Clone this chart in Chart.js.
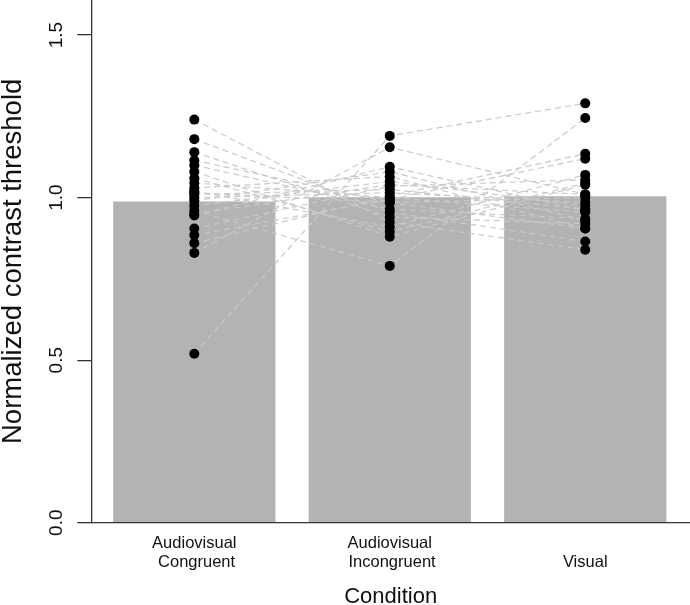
<!DOCTYPE html>
<html>
<head>
<meta charset="utf-8">
<script src="https://cdn.jsdelivr.net/npm/chart.js@4.4.1/dist/chart.umd.min.js"></script>
<style>
body { margin: 0; background: #fff; }
</style>
</head>
<body>
<canvas id="myChart" width="690" height="605"></canvas>
<script>
// condition labels (Visual sits on the second line like the original)
var conditions = [['Audiovisual', ' Congruent'], ['Audiovisual', ' Incongruent'], ['', 'Visual']]
var barMeans = [0.988, 1.001, 1.004]
var yTicks = [0, 0.5, 1.0, 1.5]

// one value per subject, same order in each array
var avCongruent   = [0.52, 1.24, 1.18, 1.14, 1.115, 1.10, 0.96, 0.83, 0.885, 0.86, 0.905, 1.08, 1.06, 1.02, 0.945, 0.99, 1.03, 0.975, 1.01, 1.00, 1.045, 0.95, 1.015]
var avIncongruent = [1.19, 0.925, 0.955, 0.94, 0.985, 0.965, 0.79, 1.155, 0.995, 1.005, 1.035, 0.88, 0.895, 0.91, 1.095, 1.08, 1.065, 1.05, 1.025, 1.015, 1.00, 1.04, 0.985]
var visualOnly    = [1.29, 0.84, 0.865, 0.92, 0.905, 0.935, 1.245, 1.01, 1.12, 1.135, 1.055, 1.04, 1.045, 1.07, 0.96, 0.93, 0.905, 0.975, 0.965, 0.985, 0.955, 1.01, 1.00]

Chart.defaults.font.family = "'Liberation Sans', Arial, sans-serif"
Chart.defaults.color = '#111'

var subjects = avCongruent.map(function(v, i){
    return [v, avIncongruent[i], visualOnly[i]]
})

var datasets = [{
    type: 'bar',
    data: barMeans.map(function(v, i){ return {x: i, y: v} }),
    backgroundColor: '#b3b3b3',
    borderWidth: 0,
    barPercentage: 0.83,
    categoryPercentage: 1,
    order: 3
}]

subjects.forEach(function(s){
    datasets.push({
        type: 'line',
        data: s.map(function(v, i){ return {x: i, y: v} }),
        borderColor: '#c9c9c9',
        borderWidth: 1.2,
        borderDash: [6, 4],
        pointRadius: 0,
        fill: false,
        order: 2
    })
})

var dots = []
subjects.forEach(function(s){
    s.forEach(function(v, i){ dots.push({x: i, y: v}) })
})
datasets.push({
    type: 'line',
    data: dots,
    showLine: false,
    pointRadius: 5,
    pointBackgroundColor: '#000',
    pointBorderWidth: 0,
    order: 1
})

var ctx = document.getElementById('myChart').getContext('2d')
var chart = new Chart(ctx, {
    type: 'bar',
    data: { datasets: datasets },
    options: {
        responsive: false,
        devicePixelRatio: 1,
        animation: false,
        layout: { padding: 0, autoPadding: false },
        plugins: { legend: { display: false }, tooltip: { enabled: false } },
        scales: {
            x: {
                type: 'linear',
                min: -0.527,
                max: 2.536,
                offset: false,
                grid: { display: false, drawTicks: false },
                border: { display: true, color: '#333', width: 1.3 },
                afterBuildTicks: function(scale){
                    scale.ticks = conditions.map(function(c, i){ return {value: i} })
                },
                ticks: {
                    autoSkip: false,
                    maxRotation: 0,
                    padding: 11,
                    font: { size: 16.5, lineHeight: 1.15 },
                    callback: function(v){ return conditions[v] }
                },
                title: {
                    display: true,
                    text: 'Condition',
                    font: { size: 22, lineHeight: 0.75 },
                    padding: 0
                },
                afterFit: function(scale){
                    scale.height = 82.3
                    scale.paddingLeft = 0
                    scale.paddingRight = 0
                }
            },
            y: {
                min: 0,
                max: 1.608,
                afterBuildTicks: function(scale){
                    scale.ticks = yTicks.map(function(v){ return {value: v} })
                },
                grid: { drawOnChartArea: false, drawTicks: true, tickLength: 14, color: '#333', lineWidth: 1.3 },
                border: { display: true, color: '#333', width: 1.3 },
                ticks: {
                    minRotation: 90,
                    maxRotation: 90,
                    crossAlign: 'center',
                    padding: 7,
                    font: { size: 19 },
                    callback: function(v){ return v.toFixed(1) }
                },
                title: {
                    display: true,
                    text: 'Normalized contrast threshold',
                    font: { size: 27.5, lineHeight: 0.95 },
                    padding: 0
                },
                afterFit: function(scale){
                    scale.width = 91.3
                    scale.paddingTop = 0
                    scale.paddingBottom = 0
                }
            }
        }
    }
})
</script>
</body>
</html>
